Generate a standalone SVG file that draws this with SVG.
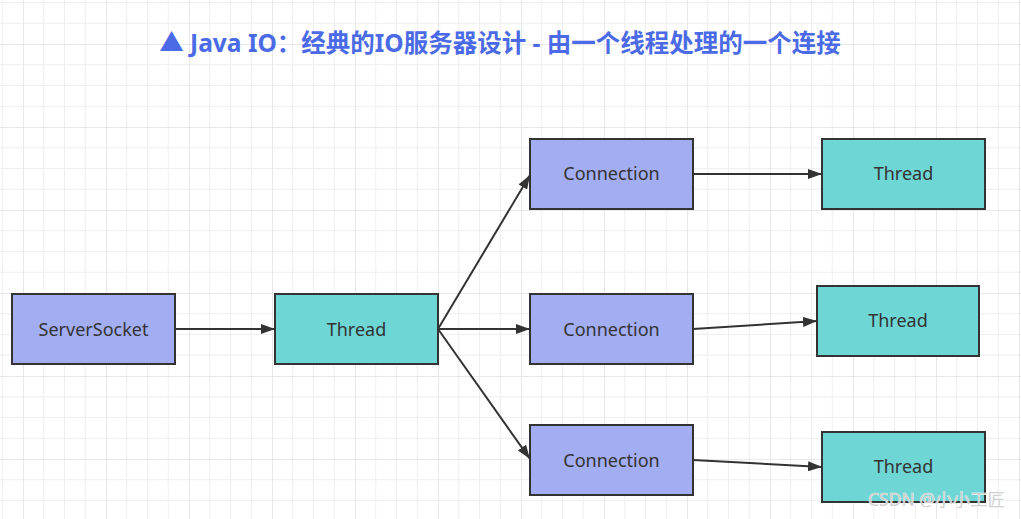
<svg xmlns="http://www.w3.org/2000/svg" width="1021" height="519" viewBox="0 0 1021 519">
<defs>
<style>
.node rect{stroke:#333;stroke-width:2}
.conn rect{fill:#a3aef2}
.thr rect{fill:#6fd6d6}
.node text{font-family:"Microsoft YaHei","Noto Sans","Open Sans",sans-serif;font-size:18px;fill:#333;text-anchor:middle;dominant-baseline:central}
.edges path{stroke:#333;stroke-width:2;fill:none;marker-end:url(#arr)}
</style>
<marker id="arr" viewBox="0 0 14 10" refX="14" refY="5" markerWidth="14" markerHeight="10" markerUnits="userSpaceOnUse" orient="auto">
<path d="M0,0 L14,5 L0,10 Z" fill="#333"/>
</marker>
<pattern id="grid" patternUnits="userSpaceOnUse" x="23" y="44" width="83" height="83">
<path d="M20.75,0V83M41.5,0V83M62.25,0V83M0,20.75H83M0,41.5H83M0,62.25H83" stroke="#eeeeee" stroke-width="1" fill="none"/>
<path d="M0,0V83M0,0H83" stroke="#e2e2e2" stroke-width="1.6" fill="none"/>
</pattern>
</defs>
<rect width="1021" height="519" fill="#fff"/>
<rect width="1021" height="519" fill="url(#grid)"/>
<text x="500" y="52" text-anchor="middle" font-family="'Noto Sans','Noto Sans CJK SC',sans-serif" font-weight="bold" font-size="24.5" fill="#4a6ae6">▲ Java IO：经典的IO服务器设计 - 由一个线程处理的一个连接</text>
<g class="edges">
<path d="M175,329 L275,329"/>
<path d="M438,329 L530,175"/>
<path d="M438,329 L530,329"/>
<path d="M438,329 L530,459"/>
<path d="M693,174 L822,174"/>
<path d="M693,329 L817,321"/>
<path d="M693,460 L822,467"/>
</g>
<g id="serversocket" class="node conn"><rect x="12" y="294" width="163" height="70"/><text x="93.5" y="329">ServerSocket</text></g>
<g id="thread0" class="node thr"><rect x="275" y="294" width="163" height="70"/><text x="356.5" y="329">Thread</text></g>
<g id="conn1" class="node conn"><rect x="530" y="139" width="163" height="70"/><text x="611.5" y="173">Connection</text></g>
<g id="conn2" class="node conn"><rect x="530" y="294" width="163" height="70"/><text x="611.5" y="329">Connection</text></g>
<g id="conn3" class="node conn"><rect x="530" y="425" width="163" height="70"/><text x="611.5" y="460">Connection</text></g>
<g id="thread1" class="node thr"><rect x="822" y="139" width="163" height="70"/><text x="903.5" y="173">Thread</text></g>
<g id="thread2" class="node thr"><rect x="817" y="286" width="162" height="70"/><text x="898" y="320">Thread</text></g>
<g id="thread3" class="node thr"><rect x="822" y="432" width="163" height="70"/><text x="903.5" y="466">Thread</text></g>
<text x="1005" y="506" text-anchor="end" font-family="'Noto Sans','Noto Sans CJK SC',sans-serif" font-size="17.5" fill="#d0d0d0" stroke="#fff" stroke-width="0.6" paint-order="stroke">CSDN @小小工匠</text>
</svg>
